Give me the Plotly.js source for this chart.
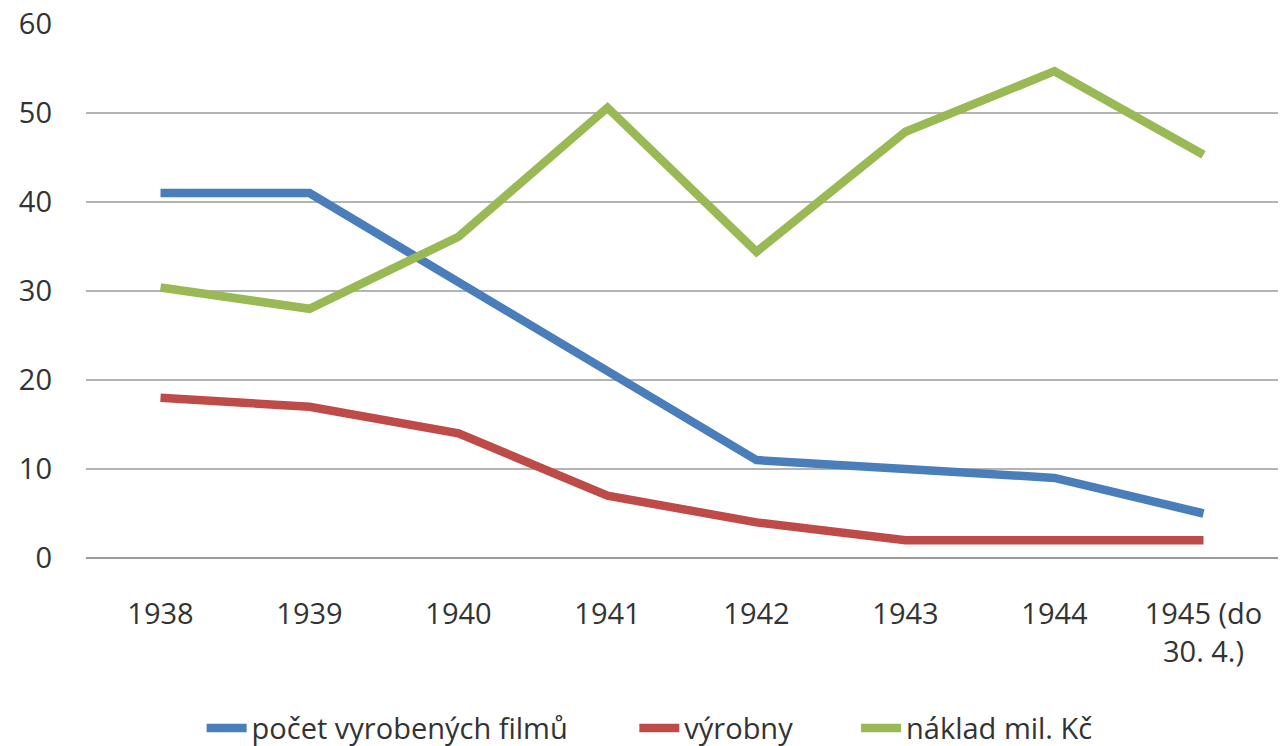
<!DOCTYPE html>
<html>
<head>
<meta charset="utf-8">
<script src="https://cdn.plot.ly/plotly-3.0.1.min.js"></script>
<style>html,body{margin:0;padding:0;background:#fff;}#chart{width:1284px;height:746px;}</style>
</head>
<body>
<div id="chart"></div>
<script>
const categories = ["1938", "1939", "1940", "1941", "1942", "1943", "1944", "1945 (do<br>30. 4.)"];
const filmy = [41, 41, 31, 21, 11, 10, 9, 5];
const vyrobny = [18, 17, 14, 7, 4, 2, 2, 2];
const naklad = [30.4, 28.0, 36.1, 50.6, 34.4, 47.9, 54.7, 45.3];
const seriesNames = ["počet vyrobených filmů", "výrobny", "náklad mil. Kč"];
const yTicks = [0, 10, 20, 30, 40, 50, 60];

const mk = (y, name, color, leg) => ({
  x: categories, y: y, name: name, type: 'scatter', mode: 'lines', legend: leg,
  line: {color: color, width: 8.5}
});

const data = [
  mk(filmy, seriesNames[0], '#4a7ebb', 'legend'),
  mk(vyrobny, seriesNames[1], '#be4b48', 'legend2'),
  mk(naklad, seriesNames[2], '#98b954', 'legend3')
];

const legFont = {size: 29, color: '#333333'};
const legBase = {orientation: 'h', xanchor: 'left', yref: 'container', y: 0.024, yanchor: 'middle',
                 font: legFont, itemwidth: 40, bgcolor: 'rgba(0,0,0,0)'};

const layout = {
  width: 1284, height: 746,
  margin: {l: 86, r: 6, t: 24, b: 188},
  paper_bgcolor: '#ffffff', plot_bgcolor: '#ffffff',
  font: {family: 'Open Sans, sans-serif', size: 29, color: '#333333'},
  showlegend: true,
  legend: Object.assign({}, legBase, {x: 0.097}),
  legend2: Object.assign({}, legBase, {x: 0.460}),
  legend3: Object.assign({}, legBase, {x: 0.646}),
  xaxis: {type: 'category', range: [-0.5, 7.5], showgrid: false, zeroline: false, automargin: false,
          showline: false, ticks: '', ticklabelstandoff: 36, tickfont: {size: 29}},
  yaxis: {range: [0, 60], tickvals: yTicks, ticktext: yTicks.map(String), showgrid: true, automargin: false,
          gridcolor: '#b4b4b4', gridwidth: 1.5, zeroline: true, zerolinecolor: '#9a9a9a',
          zerolinewidth: 1.5, showline: false, ticks: '', ticklabelstandoff: 33, tickfont: {size: 29}}
};

Plotly.newPlot('chart', data, layout, {displayModeBar: false, staticPlot: true});
</script>
</body>
</html>
